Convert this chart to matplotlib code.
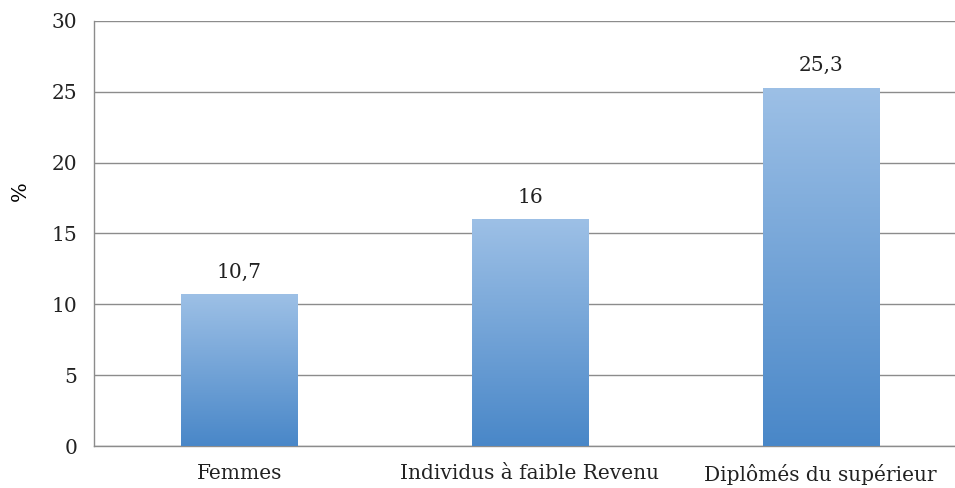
import numpy as np
import matplotlib.pyplot as plt
import matplotlib as mpl
from matplotlib.colors import LinearSegmentedColormap

mpl.rcParams['font.family'] = 'DejaVu Serif'
mpl.rcParams['font.size'] = 14.5

categories = ["Femmes", "Individus à faible Revenu", "Diplômés du supérieur"]
values = [10.7, 16, 25.3]
value_labels = ["10,7", "16", "25,3"]
yticks = [0, 5, 10, 15, 20, 25, 30]

fig = plt.figure(figsize=(9.55, 4.88), dpi=100)
ax = fig.add_axes([94/955, 42/488, 872/955, 425/488])

x = np.arange(len(categories))
bars = ax.bar(x, values, width=0.40, color='none', edgecolor='none', zorder=3)

# vertical gradient, light on top, darker at the base
grad_cmap = LinearSegmentedColormap.from_list('blues', ['#4987c8', '#9dc0e6'])
grad = np.linspace(0, 1, 256).reshape(-1, 1)
for b in bars:
    x0, y0 = b.get_x(), b.get_y()
    w, h = b.get_width(), b.get_height()
    im = ax.imshow(grad, cmap=grad_cmap, origin='lower', aspect='auto',
                   extent=[x0, x0 + w, y0, y0 + h], zorder=3)
    im.set_clip_path(b)

for xi, v, lab in zip(x, values, value_labels):
    ax.annotate(lab, (xi, v), xytext=(0, 9), textcoords='offset points',
                ha='center', va='bottom', fontsize=14.5, color='#222222')

ax.set_xlim(-0.5, 2.5)
ax.set_ylim(0, 30)
ax.set_yticks(yticks)
ax.set_xticks(x)
ax.set_xticklabels(categories, fontsize=14.5)
ax.yaxis.grid(True, color='#8c8c8c', linewidth=1.0, zorder=0)
ax.set_axisbelow(True)
ax.tick_params(axis='both', length=0, pad=12, colors='#222222')
ax.tick_params(axis='x', pad=13)
for s in ['top', 'right']:
    ax.spines[s].set_visible(False)
for s in ['left', 'bottom']:
    ax.spines[s].set_color('#8c8c8c')
    ax.spines[s].set_linewidth(1.0)

ax.set_ylabel("%", fontsize=15)
ax.yaxis.set_label_coords(-0.074, 0.6)

fig.savefig("out.png", dpi=100)
